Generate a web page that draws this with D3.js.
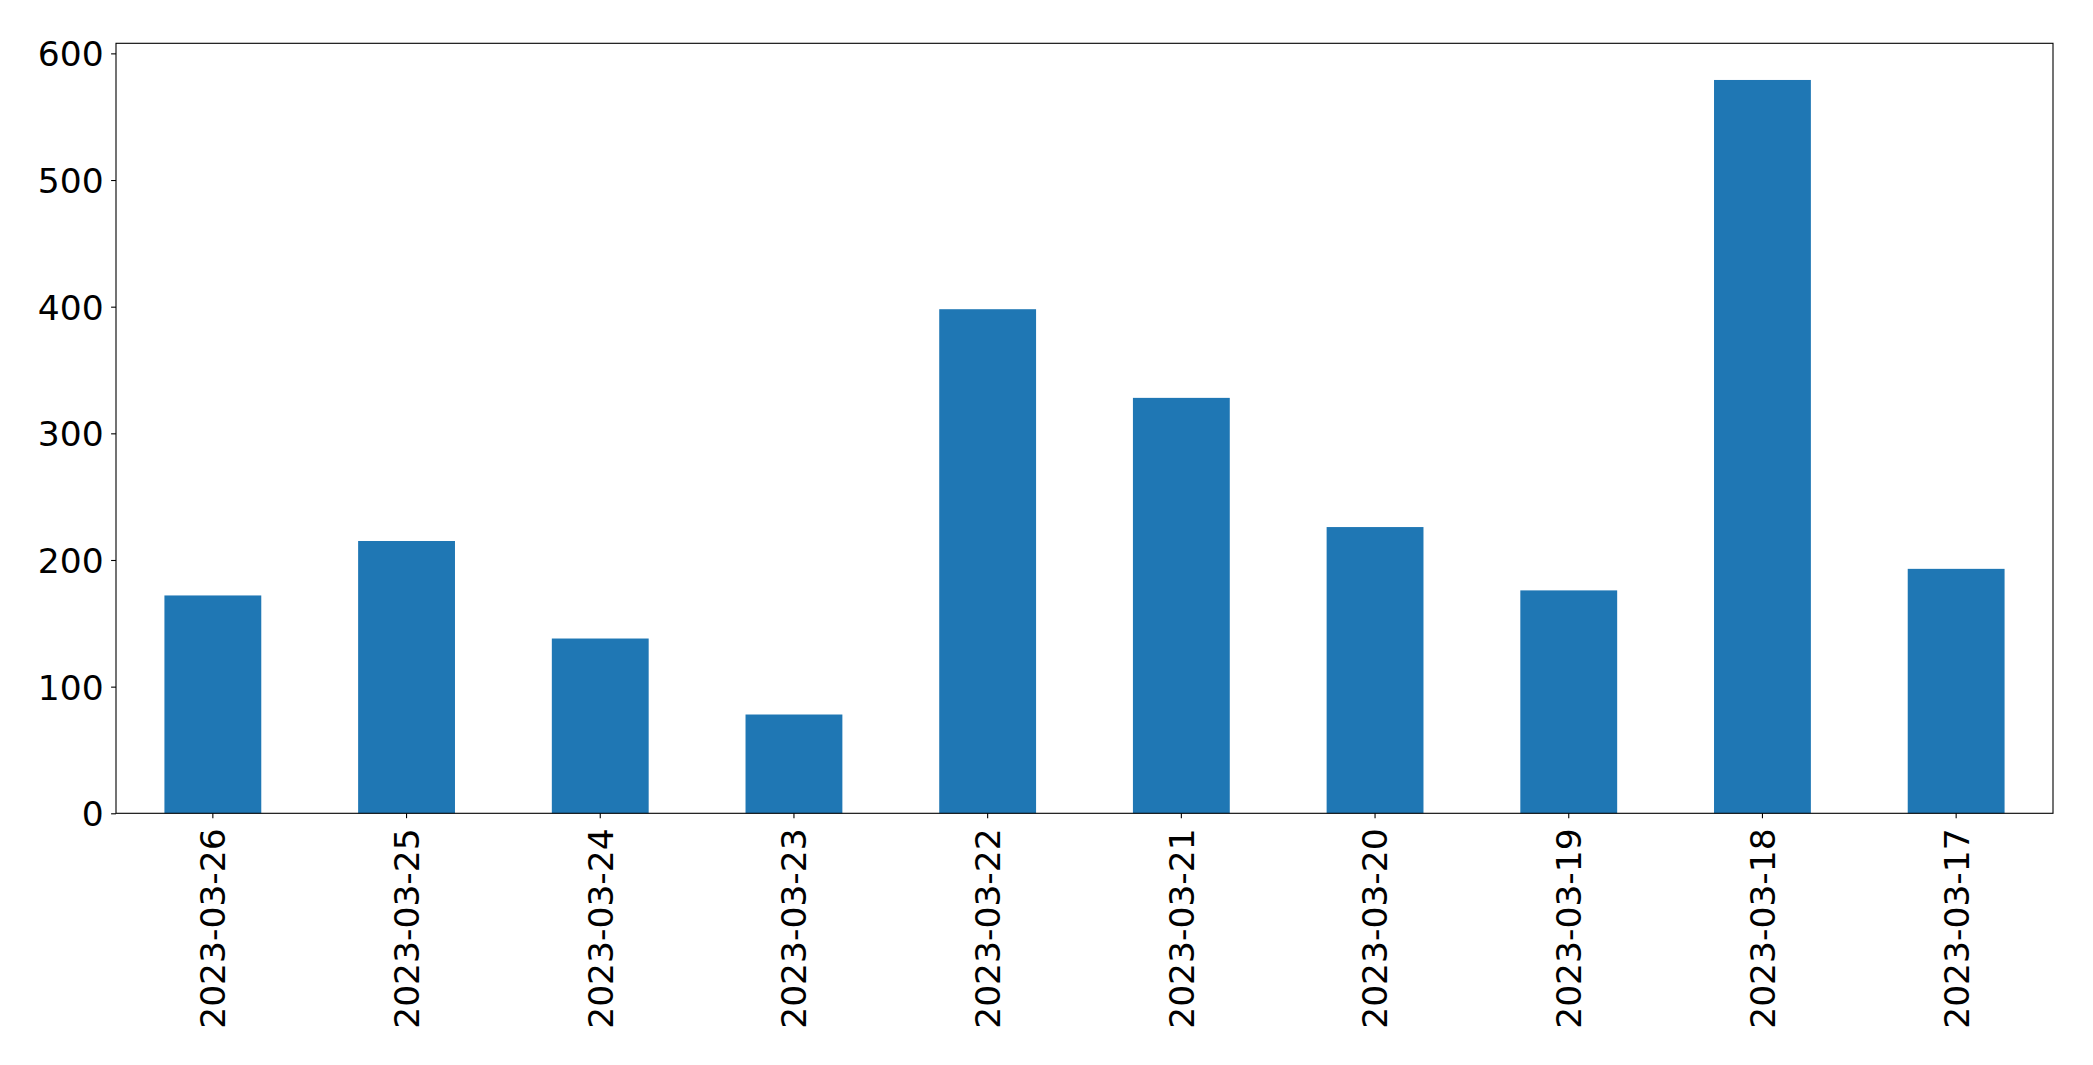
<!DOCTYPE html>
<html>
<head>
<meta charset="utf-8">
<script src="https://cdn.jsdelivr.net/npm/d3@7"></script>
<style>
  html, body { margin: 0; padding: 0; background: #fff; }
  svg { display: block; }
  text { font-family: "DejaVu Sans", sans-serif; fill: #000; }
</style>
</head>
<body>
<script>
const categories = ["2023-03-26","2023-03-25","2023-03-24","2023-03-23","2023-03-22","2023-03-21","2023-03-20","2023-03-19","2023-03-18","2023-03-17"];
const values = [172, 215, 138, 78, 398, 328, 226, 176, 579, 193];
const yTicks = [0, 100, 200, 300, 400, 500, 600];

const W = 2093, H = 1065;
const mLeft = 116, mRight = 2053, mTop = 43.3, mBottom = 813.3;
const fontSize = 34.5;

const svg = d3.select("body").append("svg").attr("width", W).attr("height", H);

const x = d3.scaleBand().domain(categories).range([mLeft, mRight]).paddingInner(0.5).paddingOuter(0.25);
const y = d3.scaleLinear().domain([0, d3.max(values) * 1.05]).range([mBottom, mTop]);

svg.append("g").selectAll("rect").data(values).join("rect")
  .attr("x", (d, i) => x(categories[i]))
  .attr("y", d => y(d))
  .attr("width", x.bandwidth())
  .attr("height", d => y(0) - y(d))
  .attr("fill", "#1f77b4");

// y axis
const yAxis = svg.append("g").attr("transform", `translate(${mLeft},0)`)
  .call(d3.axisLeft(y).tickValues(yTicks).tickSize(4.9).tickPadding(7.5));
yAxis.select(".domain").remove();
yAxis.selectAll(".tick line").attr("stroke", "#000").attr("stroke-width", 1.1);
yAxis.selectAll(".tick text").attr("font-size", fontSize).attr("font-family", "DejaVu Sans").attr("dy", "0.36em");

// x axis
const xAxis = svg.append("g").attr("transform", `translate(0,${mBottom})`)
  .call(d3.axisBottom(x).tickSize(4.9).tickPadding(0));
xAxis.select(".domain").remove();
xAxis.selectAll(".tick line").attr("stroke", "#000").attr("stroke-width", 1.1);
xAxis.selectAll(".tick text")
  .attr("font-size", fontSize).attr("font-family", "DejaVu Sans")
  .attr("text-anchor", "end")
  .attr("transform", "translate(0,15) rotate(-90)")
  .attr("x", 0).attr("y", 0).attr("dy", "0.36em");

// frame
svg.append("rect").attr("x", mLeft).attr("y", mTop).attr("width", mRight - mLeft).attr("height", mBottom - mTop)
  .attr("fill", "none").attr("stroke", "#000").attr("stroke-width", 1.1);
</script>
</body>
</html>
